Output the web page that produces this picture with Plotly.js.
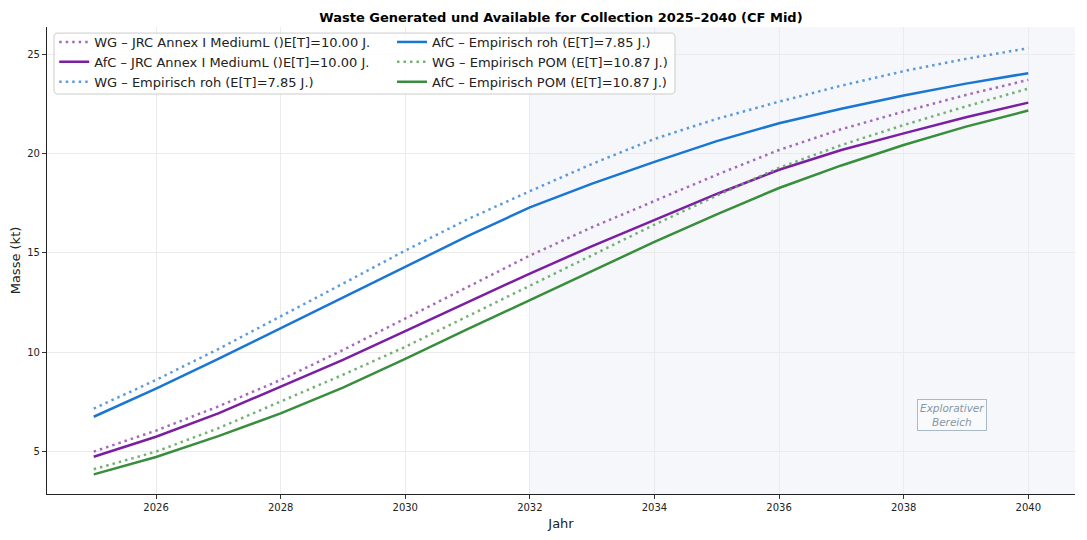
<!DOCTYPE html>
<html>
<head>
<meta charset="utf-8">
<script src="https://cdn.plot.ly/plotly-3.0.1.min.js"></script>
<style>
  body { margin: 0; background: #fff; }
  #chart { width: 1087px; height: 540px; }
</style>
</head>
<body>
<div id="chart"></div>
<script>
var years = [2025, 2026, 2027, 2028, 2029, 2030, 2031, 2032, 2033, 2034, 2035, 2036, 2037, 2038, 2039, 2040];

// WG = waste generated, AfC = available for collection (kt)
var wg_jrc  = [4.97, 6.03, 7.25, 8.59, 10.10, 11.68, 13.30, 14.87, 16.30, 17.62, 18.95, 20.20, 21.25, 22.14, 22.98, 23.74];
var afc_jrc = [4.71, 5.72, 6.90, 8.25, 9.60, 11.06, 12.50, 13.96, 15.35, 16.68, 17.98, 19.20, 20.20, 21.04, 21.85, 22.59];
var wg_roh  = [7.14, 8.59, 10.15, 11.78, 13.45, 15.12, 16.70, 18.12, 19.50, 20.76, 21.77, 22.64, 23.45, 24.18, 24.80, 25.34];
var afc_roh = [6.73, 8.15, 9.65, 11.20, 12.75, 14.30, 15.85, 17.30, 18.50, 19.60, 20.65, 21.55, 22.28, 22.95, 23.55, 24.08];
var wg_pom  = [4.08, 4.97, 6.15, 7.49, 8.85, 10.26, 11.80, 13.33, 14.90, 16.43, 17.90, 19.30, 20.45, 21.46, 22.40, 23.30];
var afc_pom = [3.82, 4.70, 5.75, 6.90, 8.20, 9.65, 11.15, 12.62, 14.10, 15.56, 16.95, 18.28, 19.42, 20.45, 21.38, 22.19];

var names = [
    "WG – JRC Annex I MediumL ()E[T]=10.00 J.",
    "AfC – JRC Annex I MediumL ()E[T]=10.00 J.",
    "WG – Empirisch roh (E[T]=7.85 J.)",
    "AfC – Empirisch roh (E[T]=7.85 J.)",
    "WG – Empirisch POM (E[T]=10.87 J.)",
    "AfC – Empirisch POM (E[T]=10.87 J.)"
];

var explorStart = 2032;
var dotted = "2.5px,4px";

function line(y, name, color, dash, legendName) {
    return {
        x: years,
        y: y,
        name: name,
        type: 'scatter',
        mode: 'lines',
        legend: legendName,
        line: {color: color, width: 2.5, dash: dash}
    };
}

var data = [
    line(wg_jrc,  names[0], 'rgba(155,89,182,0.9)', dotted, 'legend'),
    line(afc_jrc, names[1], '#7b1fa2', 'solid', 'legend'),
    line(wg_roh,  names[2], 'rgba(74,144,217,0.9)', dotted, 'legend'),
    line(afc_roh, names[3], '#1976d2', 'solid', 'legend2'),
    line(wg_pom,  names[4], 'rgba(102,168,102,0.9)', dotted, 'legend2'),
    line(afc_pom, names[5], '#388e3c', 'solid', 'legend2')
];

// legend frame (paper coords), rounded corners
var bx0 = 0.0068, bx1 = 0.6109, by0 = 0.8565, by1 = 0.987;
var rx = 0.0039, ry = 0.0086;
var framePath = 'M ' + (bx0 + rx) + ' ' + by1 +
    ' L ' + (bx1 - rx) + ' ' + by1 + ' Q ' + bx1 + ' ' + by1 + ' ' + bx1 + ' ' + (by1 - ry) +
    ' L ' + bx1 + ' ' + (by0 + ry) + ' Q ' + bx1 + ' ' + by0 + ' ' + (bx1 - rx) + ' ' + by0 +
    ' L ' + (bx0 + rx) + ' ' + by0 + ' Q ' + bx0 + ' ' + by0 + ' ' + bx0 + ' ' + (by0 + ry) +
    ' L ' + bx0 + ' ' + (by1 - ry) + ' Q ' + bx0 + ' ' + by1 + ' ' + (bx0 + rx) + ' ' + by1 + ' Z';

var legendStyle = {
    orientation: 'v',
    yanchor: 'top', xanchor: 'left', y: 1.0,
    bgcolor: 'rgba(0,0,0,0)',
    borderwidth: 0,
    font: {size: 13, color: '#222'},
    tracegroupgap: 0
};

var layout = {
    width: 1087,
    height: 540,
    paper_bgcolor: '#ffffff',
    plot_bgcolor: '#ffffff',
    font: {family: 'DejaVu Sans, sans-serif', color: '#222'},
    margin: {l: 47, r: 12, t: 27, b: 46},
    title: {
        text: '<b>Waste Generated und Available for Collection 2025–2040 (CF Mid)</b>',
        font: {size: 13, color: '#000'},
        x: 0.5, xref: 'paper', xanchor: 'center',
        y: 1, yref: 'paper', yanchor: 'bottom', pad: {b: 5}
    },
    xaxis: {
        range: [2024.25, 2040.75],
        tickvals: [2026, 2028, 2030, 2032, 2034, 2036, 2038, 2040],
        tickfont: {size: 10},
        ticks: 'outside', ticklen: 4, tickcolor: '#333',
        showline: true, linecolor: '#222', linewidth: 1.2,
        showgrid: true, gridcolor: '#ebebeb', gridwidth: 1,
        zeroline: false,
        title: {text: 'Jahr', font: {size: 13}, standoff: 6}
    },
    yaxis: {
        range: [2.83, 26.41],
        tickvals: [5, 10, 15, 20, 25],
        tickfont: {size: 10},
        ticks: 'outside', ticklen: 4, tickcolor: '#333',
        showline: true, linecolor: '#222', linewidth: 1.2,
        showgrid: true, gridcolor: '#ebebeb', gridwidth: 1,
        zeroline: false,
        title: {text: 'Masse (kt)', font: {size: 13}, standoff: 3}
    },
    legend: Object.assign({}, legendStyle, {x: 0.007}),
    legend2: Object.assign({}, legendStyle, {x: 0.3356}),
    shapes: [{
        type: 'rect', layer: 'below',
        xref: 'x', yref: 'paper',
        x0: explorStart, x1: 2040.75, y0: 0, y1: 1,
        fillcolor: '#f5f7fa', line: {width: 0}
    }, {
        type: 'path', layer: 'above',
        xref: 'paper', yref: 'paper',
        path: framePath,
        fillcolor: 'rgba(255,255,255,0.85)',
        line: {color: '#cccccc', width: 1}
    }],
    annotations: [{
        x: 2038.78, y: 6.82, xref: 'x', yref: 'y',
        text: 'Explorativer<br>Bereich',
        showarrow: false,
        font: {size: 10.5, color: '#8796a3', family: 'DejaVu Sans, sans-serif', style: 'italic'},
        bgcolor: 'rgba(255,255,255,0.4)',
        bordercolor: '#a9bac6', borderwidth: 1, borderpad: 2
    }]
};

Plotly.newPlot('chart', data, layout, {displayModeBar: false});
</script>
</body>
</html>
